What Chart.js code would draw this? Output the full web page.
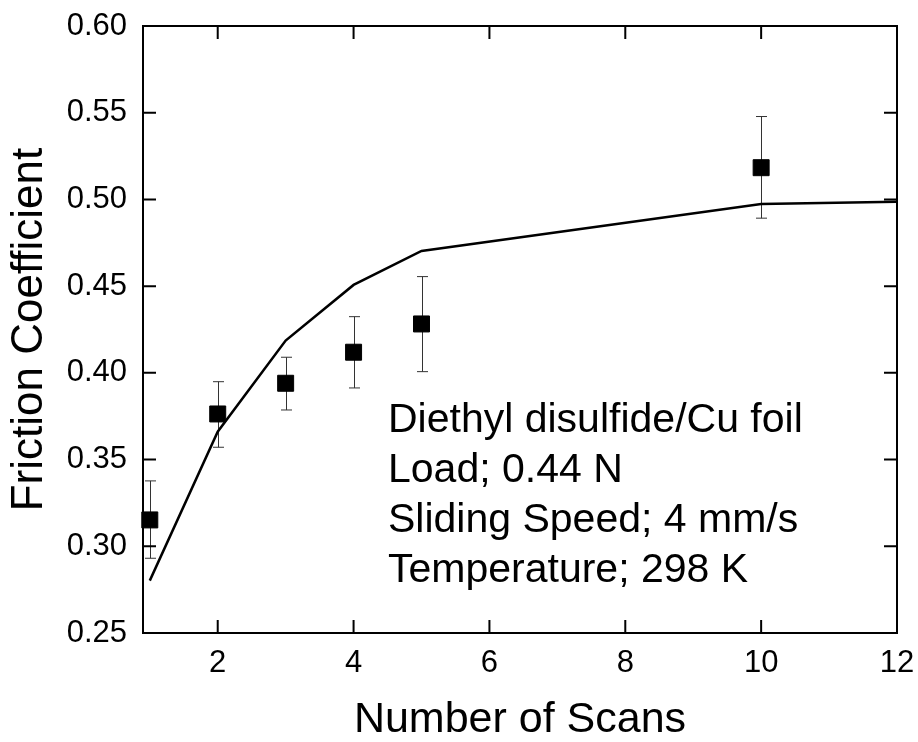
<!DOCTYPE html>
<html>
<head>
<meta charset="utf-8">
<script src="https://cdn.jsdelivr.net/npm/chart.js@4/dist/chart.umd.min.js"></script>
<style>
  html, body { margin: 0; padding: 0; background: #fff; }
  #c { display: block; }
</style>
</head>
<body>
<canvas id="c" width="918" height="742"></canvas>
<script>
// ---- data ----
const scanNumbers   = [1, 2, 3, 4, 5, 10];
const frictionMean  = [0.3152, 0.3763, 0.3940, 0.4119, 0.4282, 0.5183];
const frictionUpper = [0.3377, 0.3949, 0.4090, 0.4324, 0.4555, 0.5478];
const frictionLower = [0.2931, 0.3571, 0.3786, 0.3913, 0.4007, 0.4892];

const fitScans      = [1, 2, 3, 4, 5, 10, 12];
const fitFriction   = [0.2802, 0.3661, 0.4186, 0.4507, 0.4703, 0.4974, 0.4986];

const xTickValues   = [2, 4, 6, 8, 10, 12];
const yTickLabels   = ['0.25', '0.30', '0.35', '0.40', '0.45', '0.50', '0.55', '0.60'];

const annotationLines = [
  'Diethyl disulfide/Cu foil',
  'Load; 0.44 N',
  'Sliding Speed; 4 mm/s',
  'Temperature; 298 K'
];

const FONT = '"Liberation Sans", Arial, Helvetica, sans-serif';

// ---- plugins ----
const errorBarPlugin = {
  id: 'errorBars',
  beforeDatasetsDraw(chart) {
    const { ctx, scales: { x, y } } = chart;
    ctx.save();
    ctx.strokeStyle = '#333';
    ctx.lineWidth = 1;
    const cap = 5.5;
    scanNumbers.forEach((s, i) => {
      const px = Math.round(x.getPixelForValue(s)) + 0.5;
      const top = y.getPixelForValue(frictionUpper[i]);
      const bot = y.getPixelForValue(frictionLower[i]);
      ctx.beginPath();
      ctx.moveTo(px, top); ctx.lineTo(px, bot);
      ctx.moveTo(px - cap, top); ctx.lineTo(px + cap, top);
      ctx.moveTo(px - cap, bot); ctx.lineTo(px + cap, bot);
      ctx.stroke();
    });
    ctx.restore();
  }
};

const framePlugin = {
  id: 'frame',
  afterDraw(chart) {
    const { ctx, chartArea: a, scales: { x, y } } = chart;
    ctx.save();
    ctx.strokeStyle = '#000';
    ctx.lineWidth = 2;
    ctx.strokeRect(a.left, a.top, a.right - a.left, a.bottom - a.top);
    const tl = 13;
    ctx.beginPath();
    x.ticks.forEach(t => {
      const px = x.getPixelForValue(t.value);
      ctx.moveTo(px, a.bottom); ctx.lineTo(px, a.bottom - tl);
      ctx.moveTo(px, a.top); ctx.lineTo(px, a.top + tl);
    });
    y.ticks.forEach(t => {
      const py = y.getPixelForValue(t.value);
      ctx.moveTo(a.left, py); ctx.lineTo(a.left + tl, py);
      ctx.moveTo(a.right, py); ctx.lineTo(a.right - tl, py);
    });
    ctx.stroke();

    // annotation text block
    ctx.fillStyle = '#000';
    ctx.font = '41px ' + FONT;
    ctx.textAlign = 'left';
    ctx.textBaseline = 'alphabetic';
    annotationLines.forEach((line, i) => {
      ctx.fillText(line, 388, 432 + i * 50);
    });
    ctx.restore();
  }
};

new Chart(document.getElementById('c'), {
  data: {
    datasets: [
      {
        type: 'line',
        label: 'Fit',
        data: fitScans.map((s, i) => ({ x: s, y: fitFriction[i] })),
        borderColor: '#000',
        borderWidth: 2.5,
        pointRadius: 0,
        fill: false,
        tension: 0,
        order: 2
      },
      {
        type: 'scatter',
        label: 'Measured',
        data: scanNumbers.map((s, i) => ({ x: s, y: frictionMean[i] })),
        pointStyle: 'rect',
        pointRadius: 11.3,
        backgroundColor: '#000',
        borderColor: '#000',
        borderWidth: 1,
        clip: false,
        order: 1
      }
    ]
  },
  options: {
    responsive: false,
    animation: false,
    devicePixelRatio: 1,
    layout: { padding: { top: 26, right: 21, left: 0, bottom: 0 } },
    plugins: {
      legend: { display: false },
      tooltip: { enabled: false }
    },
    scales: {
      x: {
        type: 'linear',
        min: 0.9,
        max: 12,
        grid: { display: false, drawTicks: false },
        border: { display: false },
        afterBuildTicks(scale) {
          scale.ticks = xTickValues.map(v => ({ value: v }));
        },
        ticks: {
          includeBounds: false,
          padding: 12,
          color: '#000',
          font: { family: FONT, size: 31 },
          callback: v => String(v)
        },
        title: {
          display: true,
          text: 'Number of Scans',
          color: '#000',
          font: { family: FONT, size: 43, lineHeight: 1 },
          padding: { top: 0, bottom: 0 }
        },
        afterFit(scale) {
          scale.height = 109;
          scale.paddingLeft = 0;
          scale.paddingRight = 0;
        }
      },
      y: {
        type: 'linear',
        min: 0.25,
        max: 0.6,
        grid: { display: false, drawTicks: false },
        border: { display: false },
        afterBuildTicks(scale) {
          scale.ticks = yTickLabels.map(v => ({ value: parseFloat(v) }));
        },
        ticks: {
          padding: 16,
          color: '#000',
          font: { family: FONT, size: 31 },
          callback: (v, i) => yTickLabels[i]
        },
        title: {
          display: true,
          text: 'Friction Coefficient',
          color: '#000',
          font: { family: FONT, size: 44, lineHeight: 1 },
          padding: { top: 8, bottom: 0 }
        },
        afterFit(scale) {
          scale.width = 143;
          scale.paddingTop = 0;
          scale.paddingBottom = 0;
        }
      }
    }
  },
  plugins: [errorBarPlugin, framePlugin]
});
</script>
</body>
</html>
